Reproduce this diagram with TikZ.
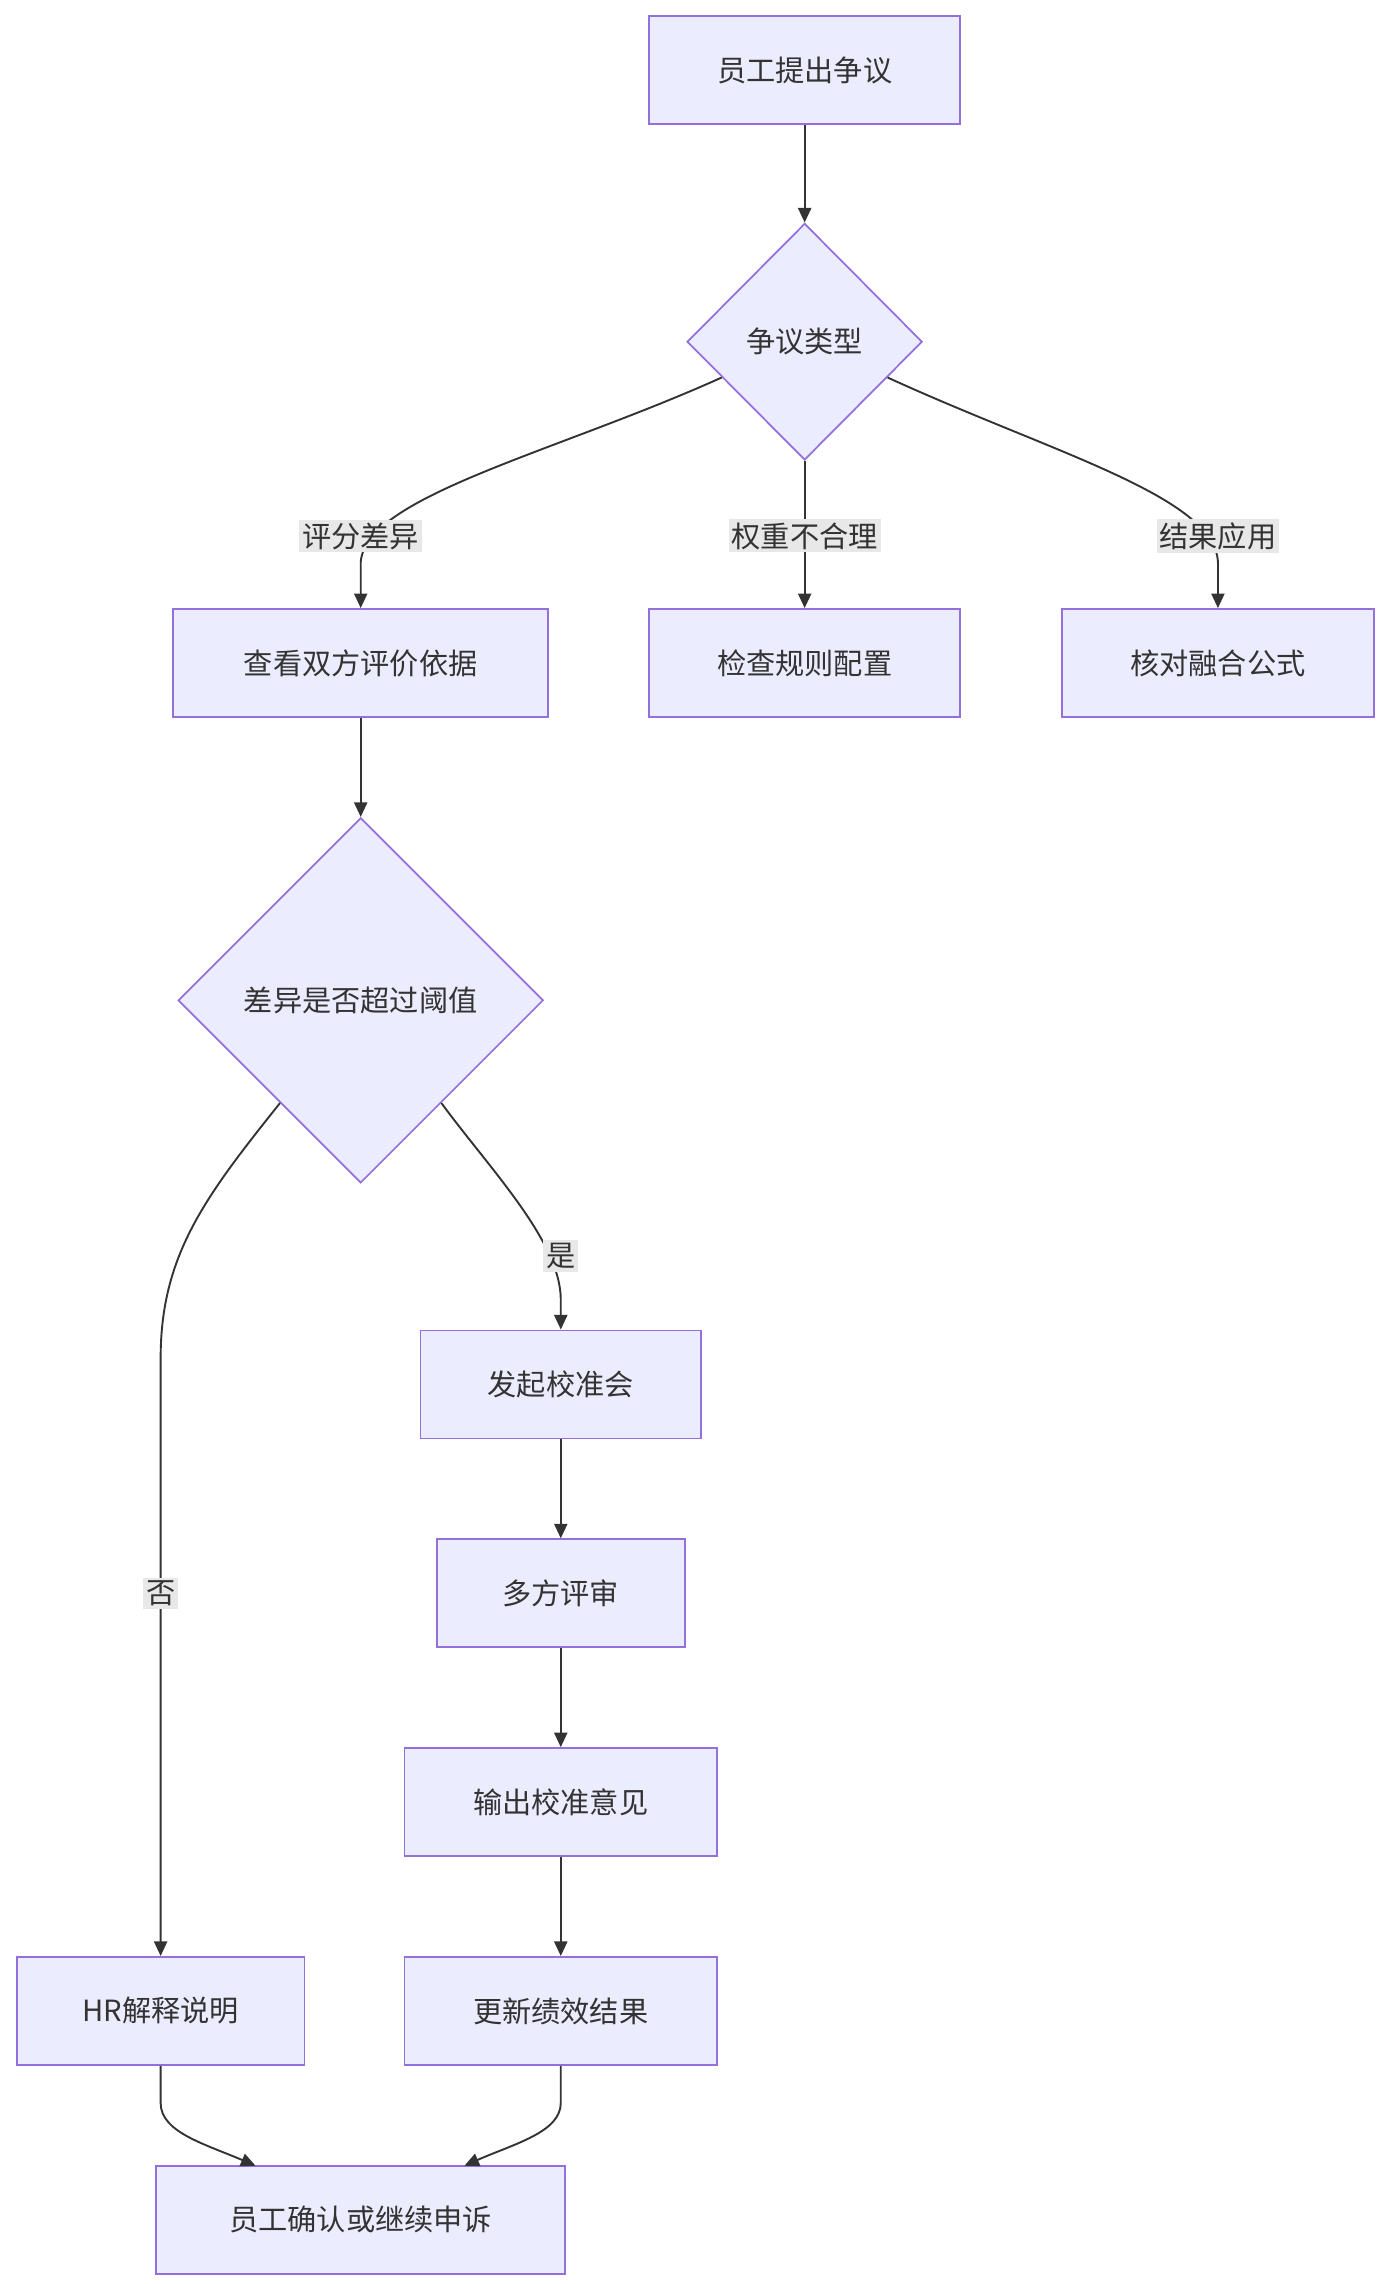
\documentclass[tikz,border=0pt]{standalone}
\usepackage{fontspec}
\setmainfont{Noto Sans CJK SC}
\usetikzlibrary{shapes.geometric,arrows.meta,calc}
\definecolor{nfill}{HTML}{ECECFF}
\definecolor{nline}{HTML}{9370DB}
\definecolor{eline}{HTML}{333333}
\definecolor{lbg}{HTML}{E8E8E8}
\begin{document}
\begin{tikzpicture}[x=1pt,y=-1pt,
  box/.style={draw=nline,fill=nfill,line width=1.2pt,minimum height=74pt,inner sep=0pt,font=\fontsize{20}{24}\selectfont,text=eline},
  dia/.style={diamond,draw=nline,fill=nfill,line width=1.2pt,inner sep=0pt,font=\fontsize{20}{24}\selectfont,text=eline},
  lab/.style={fill=lbg,inner sep=2pt,font=\fontsize{20}{24}\selectfont,text=eline},
  e/.style={draw=eline,line width=1.3pt,-{Triangle[length=10pt,width=9pt]}}]
\useasboundingbox[fill=white] (0,0) rectangle (950,1564);
\node[box,minimum width=213pt] (n1) at (551,48) {员工提出争议};
\node[dia,minimum width=161pt,minimum height=162pt] (d1) at (551,234) {争议类型};
\node[box,minimum width=257pt] (n2) at (247,454) {查看双方评价依据};
\node[box,minimum width=213pt] (n3) at (551,454) {检查规则配置};
\node[box,minimum width=214pt] (n4) at (834,454) {核对融合公式};
\node[dia,minimum width=250pt,minimum height=250pt] (d2) at (247,685) {差异是否超过阈值};
\node[box,minimum width=192pt] (n5) at (384,948) {发起校准会};
\node[box,minimum width=170pt] (n6) at (384,1091) {多方评审};
\node[box,minimum width=214pt] (n7) at (384,1234) {输出校准意见};
\node[box,minimum width=214pt] (n8) at (384,1377) {更新绩效结果};
\node[box,minimum width=197pt] (n9) at (110,1377) {HR解释说明};
\node[box,minimum width=280pt] (n10) at (247,1520) {员工确认或继续申诉};
\coordinate (a1) at ($(d1.west)!0.3!(d1.south)$);
\coordinate (a2) at ($(d1.east)!0.3!(d1.south)$);
\coordinate (b1) at ($(d2.west)!0.56!(d2.south)$);
\coordinate (b2) at ($(d2.east)!0.56!(d2.south)$);
\draw[e] (n1) -- (d1);
\draw[e] (a1) .. controls (380,310) and (250,340) .. (247,385) -- (n2.north);
\node[lab] (l1) at (247,367) {评分差异};
\draw[e] (d1.south) -- (n3.north);
\node[lab] (l2) at (551,367) {权重不合理};
\draw[e] (a2) .. controls (720,310) and (832,340) .. (834,385) -- (n4.north);
\node[lab] (l3) at (834,367) {结果应用};
\draw[e] (n2) -- (d2);
\draw[e] (b1) .. controls (140,820) and (110,860) .. (110,930) -- (n9.north);
\node[lab] (l4) at (110,1091) {否};
\draw[e] (b2) .. controls (335,800) and (384,850) .. (384,890) -- (n5.north);
\node[lab] (l5) at (384,860) {是};
\draw[e] (n5) -- (n6);
\draw[e] (n6) -- (n7);
\draw[e] (n7) -- (n8);
\draw[e] (n9.south) -- (110,1440) .. controls (110,1460) and (140,1468) .. (175,1483);
\draw[e] (n8.south) -- (384,1440) .. controls (384,1460) and (352,1468) .. (318,1483);
\end{tikzpicture}
\end{document}
